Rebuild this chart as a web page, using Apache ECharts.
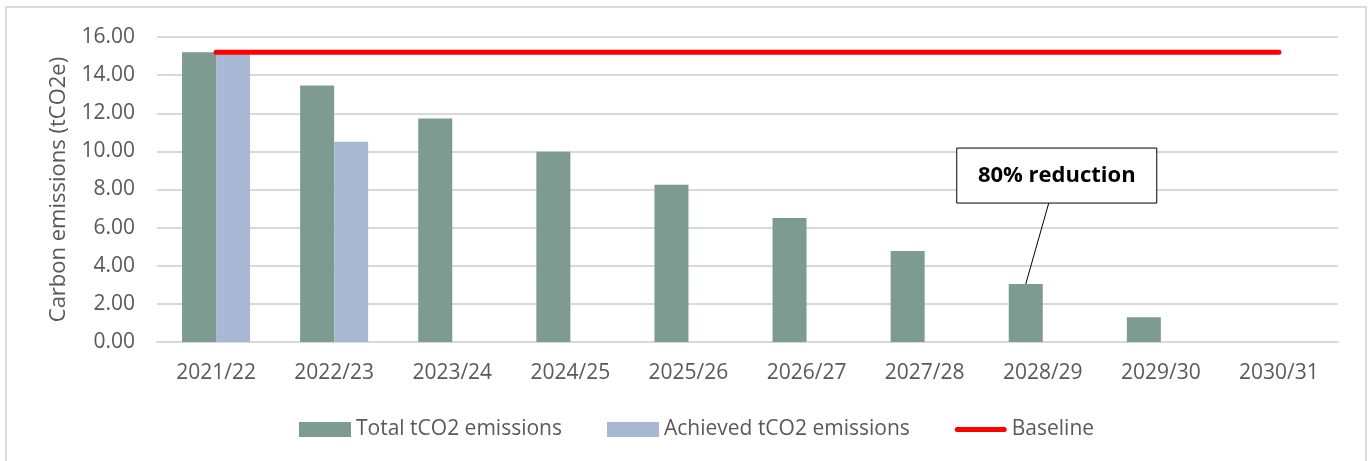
<!DOCTYPE html>
<html>
<head>
<meta charset="utf-8">
<script src="https://cdn.jsdelivr.net/npm/echarts@6/dist/echarts.min.js"></script>
<style>
  html, body { margin: 0; padding: 0; background: #fff; }
  #chart { width: 1370px; height: 461px; }
</style>
</head>
<body>
<div id="chart"></div>
<script>
// Financial years on the x axis
const years = ['2021/22', '2022/23', '2023/24', '2024/25', '2025/26',
               '2026/27', '2027/28', '2028/29', '2029/30', '2030/31'];
// Planned total emissions per year (tCO2e)
const totalEmissions = [15.2, 13.46, 11.72, 9.98, 8.25, 6.51, 4.78, 3.04, 1.30, 0];
// Emissions achieved so far (tCO2e)
const achievedEmissions = [15.2, 10.5, null, null, null, null, null, null, null, null];
// Baseline level held across the whole period
const baseline = [15.2, 15.2, 15.2, 15.2, 15.2, 15.2, 15.2, 15.2, 15.2, 15.2];
// Callout text and the year it points at
const calloutText = '80% reduction';
const calloutYear = '2028/29';

const FONT = "'Open Sans', 'Noto Sans', sans-serif";
const TEXT = '#595959';
const GRID = '#d9d9d9';

// Thick rounded line for the baseline legend key (tiny corner dots keep the 52x15 box)
const LINE_ICON = 'path://M0,0h0.01v0.01h-0.01z M52,15h-0.01v-0.01h0.01z ' +
                  'M2.5,5h47a2.5,2.5 0 0 1 0,5h-47a2.5,2.5 0 0 1 0,-5z';

const chart = echarts.init(document.getElementById('chart'), null, { renderer: 'canvas' });

chart.setOption({
  animation: false,
  backgroundColor: '#ffffff',
  grid: { left: 157, right: 32, top: 37, bottom: 119, containLabel: false },
  legend: {
    bottom: 16,
    left: 294,
    itemWidth: 52,
    itemHeight: 15,
    itemGap: 45,
    textStyle: { fontFamily: FONT, fontSize: 21, color: TEXT },
    data: [
      { name: 'Total tCO2 emissions', icon: 'rect' },
      { name: 'Achieved tCO2 emissions', icon: 'rect' },
      { name: 'Baseline', icon: LINE_ICON }
    ]
  },
  xAxis: {
    type: 'category',
    data: years,
    axisTick: { show: false },
    axisLine: { lineStyle: { color: GRID, width: 2 } },
    axisLabel: { fontFamily: FONT, fontSize: 21, color: TEXT, margin: 21 }
  },
  yAxis: {
    type: 'value',
    min: 0,
    max: 16,
    interval: 2,
    name: 'Carbon emissions (tCO2e)',
    nameLocation: 'middle',
    nameGap: 87,
    nameTextStyle: { fontFamily: FONT, fontSize: 22, color: TEXT },
    axisLine: { show: false },
    axisTick: { show: false },
    splitLine: { lineStyle: { color: GRID, width: 2 } },
    axisLabel: {
      fontFamily: FONT, fontSize: 21, color: TEXT, margin: 22,
      formatter: v => v.toFixed(2)
    }
  },
  series: [
    {
      name: 'Total tCO2 emissions',
      type: 'bar',
      data: totalEmissions,
      barWidth: 34,
      barGap: '0%',
      itemStyle: { color: '#7d9b90' },
      z: 2
    },
    {
      name: 'Achieved tCO2 emissions',
      type: 'bar',
      data: achievedEmissions,
      barWidth: 34,
      barGap: '0%',
      itemStyle: { color: '#a9b8d4' },
      z: 2
    },
    {
      name: 'Baseline',
      type: 'line',
      data: baseline,
      symbol: 'none',
      lineStyle: { color: '#ff0000', width: 5, cap: 'round' },
      itemStyle: { color: '#ff0000' },
      z: 5
    }
  ]
});

// Outer frame and the callout box with its leader line, anchored to the bar top
function drawOverlay() {
  const idx = years.indexOf(calloutYear);
  const layout = chart.getModel().getSeriesByIndex(0).getData().getItemLayout(idx);
  const ax = layout.x + layout.width / 2;
  const topY = Math.min(layout.y, layout.y + layout.height);
  const boxW = 200, boxH = 55;
  const boxX = ax - 69, boxY = topY - 136;
  chart.setOption({
    graphic: [
      {
        type: 'rect', id: 'frame', silent: true,
        shape: { x: 6, y: 7, width: 1360, height: 470 },
        style: { fill: null, stroke: GRID, lineWidth: 2 }
      },
      {
        type: 'line', id: 'leader', silent: true, z: 10,
        shape: { x1: boxX + 92, y1: boxY + boxH, x2: ax, y2: topY },
        style: { stroke: '#000', lineWidth: 1 }
      },
      {
        type: 'rect', id: 'calloutBox', silent: true, z: 10,
        shape: { x: boxX, y: boxY, width: boxW, height: boxH },
        style: { fill: '#fff', stroke: '#000', lineWidth: 1 }
      },
      {
        type: 'text', id: 'calloutText', silent: true, z: 11,
        x: boxX + boxW / 2, y: boxY + boxH / 2,
        style: {
          text: calloutText, fontFamily: FONT, fontSize: 22, fontWeight: 'bold',
          fill: '#000', align: 'center', verticalAlign: 'middle'
        }
      }
    ]
  });
}
drawOverlay();
</script>
</body>
</html>
